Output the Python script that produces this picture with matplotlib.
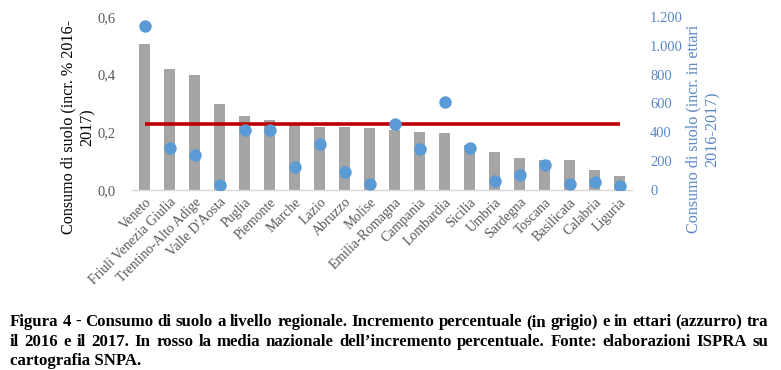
import matplotlib
matplotlib.use("Agg")
import matplotlib.pyplot as plt
import numpy as np

regions = ["Veneto", "Friuli Venezia Giulia", "Trentino-Alto Adige", "Valle D'Aosta",
           "Puglia", "Piemonte", "Marche", "Lazio", "Abruzzo", "Molise",
           "Emilia-Romagna", "Campania", "Lombardia", "Sicilia", "Umbria",
           "Sardegna", "Toscana", "Basilicata", "Calabria", "Liguria"]
incr_pct = [0.506, 0.418, 0.399, 0.297, 0.256, 0.243, 0.228, 0.220, 0.217, 0.214,
            0.208, 0.201, 0.197, 0.156, 0.132, 0.112, 0.104, 0.103, 0.069, 0.050]
incr_ha = [1136, 294, 246, 32, 414, 419, 161, 317, 122, 43,
           457, 283, 607, 288, 64, 103, 172, 39, 57, 28]
media_nazionale = 0.229
left_ticks = [0.0, 0.2, 0.4, 0.6]
left_ticklabels = ["0,0", "0,2", "0,4", "0,6"]
right_ticks = [0, 200, 400, 600, 800, 1000, 1200]
right_ticklabels = ["0", "200", "400", "600", "800", "1.000", "1.200"]

caption_lines = [
    "Figura 4 - Consumo di suolo a livello regionale. Incremento percentuale (in grigio) e in ettari (azzurro) tra",
    "il 2016 e il 2017. In rosso la media nazionale dell\u2019incremento percentuale. Fonte: elaborazioni ISPRA su",
    "cartografia SNPA.",
]

GRAY = "#A5A5A5"
BLUE = "#5B9BD5"
BLUE_TXT = "#5A87C5"
RED = "#C00000"
TXT = "#595959"
SERIF = ["Liberation Serif", "DejaVu Serif"]

W, H = 781, 370
fig = plt.figure(figsize=(W / 100, H / 100), dpi=100)
ax = fig.add_axes([132 / W, 1 - 190 / H, 500 / W, 173 / H])
x = np.arange(len(regions))

ax.bar(x, incr_pct, width=0.42, color=GRAY, zorder=2)
ax.plot([x[0], x[-1]], [media_nazionale, media_nazionale], color=RED, lw=2.6,
        solid_capstyle="butt", zorder=3)
ax.set_xlim(-0.5, len(regions) - 0.5)
ax.set_ylim(0, 0.6)
ax.set_yticks(left_ticks)
ax.set_yticklabels(left_ticklabels, fontfamily=SERIF, fontsize=10.5, color=TXT)
ax.set_xticks(x)
ax.set_xticklabels(regions, rotation=45, ha="right", rotation_mode="anchor",
                   fontfamily=SERIF, fontsize=10, color=TXT)
ax.tick_params(axis="both", length=0)
ax.tick_params(axis="y", pad=12)
ax.tick_params(axis="x", pad=4)
for s in ["top", "right", "left"]:
    ax.spines[s].set_visible(False)
ax.spines["bottom"].set_color("#D9D9D9")
ax.spines["bottom"].set_linewidth(1.0)

ax2 = ax.twinx()
ax2.scatter(x, incr_ha, s=80, color=BLUE, zorder=4, linewidths=0)
ax2.set_ylim(0, 1200)
ax2.set_yticks(right_ticks)
ax2.set_yticklabels(right_ticklabels, fontfamily=SERIF, fontsize=10.5, color=BLUE_TXT)
ax2.tick_params(axis="y", length=0, pad=13)
for s in ["top", "right", "left", "bottom"]:
    ax2.spines[s].set_visible(False)

fig.text(78 / W, 1 - 127 / H, "Consumo di suolo (incr. % 2016-\n2017)", rotation=90,
         ha="center", va="center", multialignment="center", fontfamily=SERIF,
         fontsize=11.6, color="black")
fig.text(703 / W, 1 - 129 / H, "Consumo di suolo (incr. in ettari\n2016-2017)", rotation=90,
         ha="center", va="center", multialignment="center", fontfamily=SERIF,
         fontsize=11.6, color=BLUE_TXT)

# justified caption
renderer = fig.canvas.get_renderer()
x0, x1 = 10, 768
baselines = [326, 346, 365]
cap_fs = 12.1
for i, line in enumerate(caption_lines):
    yfig = 1 - baselines[i] / H
    if i < len(caption_lines) - 1:
        words = line.split(" ")
        texts = [fig.text(0, yfig, w, fontfamily=SERIF, fontweight="bold", fontsize=cap_fs,
                          va="baseline", ha="left") for w in words]
        widths = [t.get_window_extent(renderer).width for t in texts]
        gap = (x1 - x0 - sum(widths)) / (len(words) - 1)
        cx = x0
        for t, w in zip(texts, widths):
            t.set_x(cx / W)
            cx += w + gap
    else:
        fig.text(x0 / W, yfig, line, fontfamily=SERIF, fontweight="bold", fontsize=cap_fs,
                 va="baseline", ha="left")

fig.savefig("out.png", dpi=100)
